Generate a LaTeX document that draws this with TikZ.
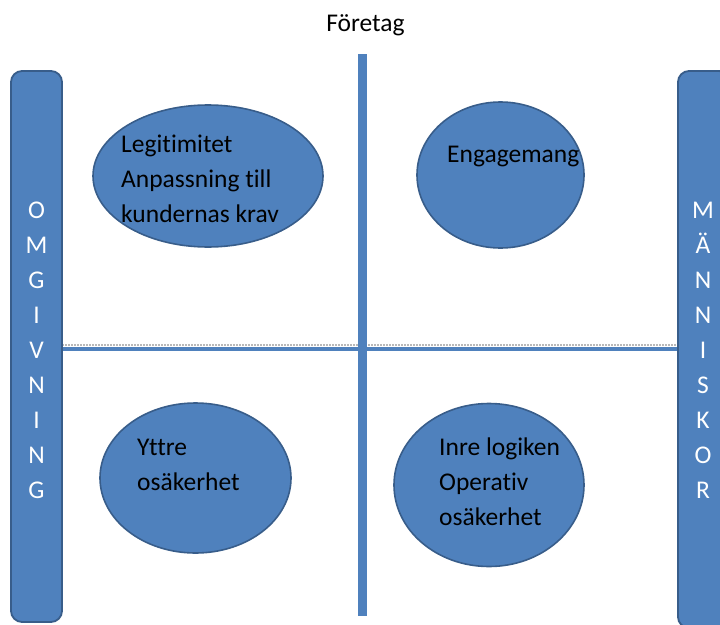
\documentclass[tikz,border=0pt]{standalone}
\usepackage{fontspec}
\setmainfont[Ligatures=NoCommon]{Carlito}
\usetikzlibrary{shapes.geometric}
\definecolor{boxfill}{HTML}{4F81BD}
\definecolor{boxline}{HTML}{385D8A}
\tikzset{
  bar/.style={fill=boxfill, draw=boxline, line width=1.8pt, rounded corners=11pt},
  oval/.style={ellipse, fill=boxfill, draw=boxline, line width=1.6pt, inner sep=0pt},
  label/.style={font=\fontsize{25.5}{35}\selectfont, align=left, inner sep=0pt, anchor=base west, text=black},
  stack/.style={font=\fontsize{25.5}{35}\selectfont, align=center, inner sep=0pt, anchor=base, text=white},
  axis/.style={draw=boxfill}
}
\begin{document}
\begin{tikzpicture}[x=1pt, y=-1pt]
\useasboundingbox (0,0) rectangle (720,624);
\clip (0,0) rectangle (720,624);

% horizontal axis with its faint grey shadow
\coordinate (hl) at (62,349);
\coordinate (hr) at (678,349);
\draw[gray!55, line width=2.2pt, dash pattern=on 2pt off 1pt] ([yshift=4.2pt]hl) -- ([yshift=4.2pt]hr);
\draw[axis, line width=4pt] (hl) -- (hr);

% vertical axis
\coordinate (vt) at (362.5,54);
\coordinate (vb) at (362.5,616);
\draw[axis, line width=9pt] (vt) -- (vb);

% side bars (multi-line nodes are placed by the baseline of their last line)
\draw[bar] (11,71) rectangle (62,622);
\draw[bar] (678,71) rectangle (730,628);
\node[stack] (omg) at (36.5,498) {O\\M\\G\\I\\V\\N\\I\\N\\G};
\node[stack] (man) at (703,498) {M\\Ä\\N\\N\\I\\S\\K\\O\\R};

% title
\node[label, anchor=base] (foretag) at (365.5,31) {Företag};

% quadrants
\node[oval, minimum width=230pt, minimum height=142pt] (q1) at (208,176) {};
\node[oval, minimum width=167pt, minimum height=146pt] (q2) at (500.5,175) {};
\node[oval, minimum width=191pt, minimum height=150pt] (q3) at (195.5,478) {};
\node[oval, minimum width=190pt, minimum height=163pt] (q4) at (489,485) {};

\node[label] (t1) at (121,222) {Legitimitet\\Anpassning till\\kundernas krav};
\node[label] (t2) at (447,162) {Engagemang};
\node[label] (t3) at (137,490) {Yttre\\osäkerhet};
\node[label] (t4) at (439,525) {Inre logiken\\Operativ\\osäkerhet};
\end{tikzpicture}
\end{document}
